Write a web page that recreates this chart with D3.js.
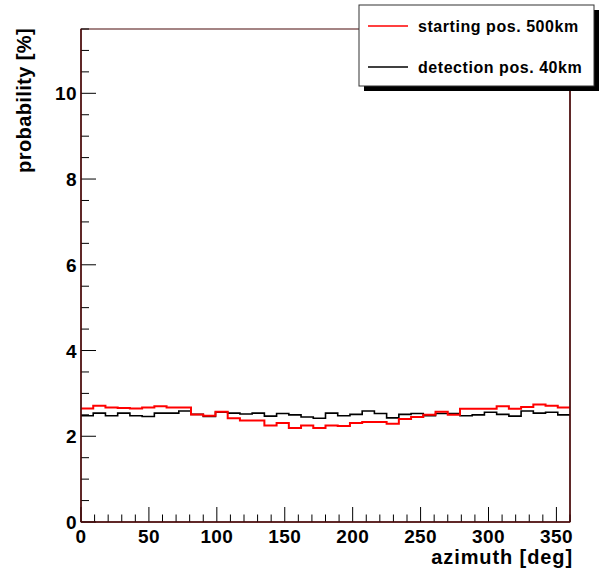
<!DOCTYPE html>
<html>
<head>
<meta charset="utf-8">
<script src="https://cdn.jsdelivr.net/npm/d3@7"></script>
<style>
  html, body { margin: 0; padding: 0; background: #fff; }
  svg { display: block; }
  text { font-family: "Liberation Sans", Arial, Helvetica, sans-serif; font-weight: bold; fill: #000; }
</style>
</head>
<body>
<svg id="chart" width="599" height="577"></svg>
<script>
// ---- data ----
const binWidth = 9; // degrees, 40 bins from 0 to 360
const startingPos500km = [
  2.65, 2.71, 2.67, 2.66, 2.65, 2.67, 2.70, 2.67,
  2.67, 2.51, 2.48, 2.57, 2.42, 2.37, 2.37, 2.25,
  2.31, 2.19, 2.25, 2.19, 2.25, 2.24, 2.31, 2.33,
  2.33, 2.29, 2.40, 2.45, 2.50, 2.57, 2.50, 2.64,
  2.64, 2.64, 2.70, 2.64, 2.68, 2.74, 2.71, 2.67
];
const detectionPos40km = [
  2.48, 2.54, 2.48, 2.54, 2.48, 2.46, 2.54, 2.54,
  2.59, 2.51, 2.46, 2.56, 2.54, 2.52, 2.54, 2.47,
  2.53, 2.50, 2.45, 2.42, 2.54, 2.48, 2.51, 2.59,
  2.53, 2.43, 2.51, 2.53, 2.48, 2.53, 2.53, 2.48,
  2.50, 2.56, 2.51, 2.47, 2.59, 2.54, 2.56, 2.50
];
const seriesNames = ["starting pos. 500km", "detection pos. 40km"];
const seriesColors = ["#ff0000", "#000000"];
const xTickValues = [0, 50, 100, 150, 200, 250, 300, 350];
const yTickValues = [0, 2, 4, 6, 8, 10];
const xTitle = "azimuth [deg]";
const yTitle = "probability [%]";

// ---- layout ----
const svg = d3.select("#chart");
const pL = 81, pR = 570, pT = 29, pB = 522;
const x = d3.scaleLinear().domain([0, 360]).range([pL, pR]);
const y = d3.scaleLinear().domain([0, 11.5]).range([pB, pT]);

const frameColor = "#4a0a0a";

// frame
svg.append("rect")
  .attr("x", pL).attr("y", pT)
  .attr("width", pR - pL).attr("height", pB - pT)
  .attr("fill", "#fff").attr("stroke", frameColor).attr("stroke-width", 1);

// ticks (ROOT style: inside the frame)
const xMinor = d3.range(0, 361, 10);
svg.append("g").selectAll("line").data(xMinor).join("line")
  .attr("x1", d => x(d)).attr("x2", d => x(d))
  .attr("y1", pB).attr("y2", d => pB - (d % 50 === 0 ? 15 : 7.5))
  .attr("stroke", "#000").attr("stroke-width", 1);

const yMinor = d3.range(0, 11.51, 0.5);
svg.append("g").selectAll("line").data(yMinor).join("line")
  .attr("x1", pL).attr("x2", d => pL + (Math.abs(d % 2) < 1e-9 ? 15 : 8))
  .attr("y1", d => y(d)).attr("y2", d => y(d))
  .attr("stroke", "#000").attr("stroke-width", 1);

// tick labels
svg.append("g").selectAll("text").data(xTickValues).join("text")
  .attr("x", d => x(d)).attr("y", 543)
  .attr("text-anchor", "middle")
  .attr("font-size", 19)
  .attr("letter-spacing", 0.4)
  .text(d => d);

svg.append("g").selectAll("text").data(yTickValues).join("text")
  .attr("x", 77).attr("y", d => y(d) + 7)
  .attr("text-anchor", "end")
  .attr("font-size", 19)
  .attr("letter-spacing", 0.4)
  .text(d => d);

// axis titles
svg.append("text")
  .attr("x", 573).attr("y", 564)
  .attr("text-anchor", "end")
  .attr("font-size", 20)
  .attr("letter-spacing", 0.9)
  .text(xTitle);

svg.append("text")
  .attr("transform", "translate(31,28) rotate(-90)")
  .attr("text-anchor", "end")
  .attr("font-size", 20)
  .attr("letter-spacing", 0.4)
  .text(yTitle);

// histograms
function stepPoints(vals) {
  const pts = vals.map((v, i) => [i * binWidth, v]);
  pts.push([vals.length * binWidth, vals[vals.length - 1]]);
  return pts;
}
const line = d3.line()
  .x(d => x(d[0])).y(d => y(d[1]))
  .curve(d3.curveStepAfter);

svg.append("path")
  .datum(stepPoints(detectionPos40km))
  .attr("d", line)
  .attr("fill", "none").attr("stroke", seriesColors[1]).attr("stroke-width", 1.6);

svg.append("path")
  .datum(stepPoints(startingPos500km))
  .attr("d", line)
  .attr("fill", "none").attr("stroke", seriesColors[0]).attr("stroke-width", 2);

// redraw frame edges on top
svg.append("line")
  .attr("x1", pR).attr("x2", pR).attr("y1", pT).attr("y2", pB)
  .attr("stroke", frameColor).attr("stroke-width", 1.5);
svg.append("line")
  .attr("x1", pL).attr("x2", pR).attr("y1", pB).attr("y2", pB)
  .attr("stroke", frameColor).attr("stroke-width", 1.5);
svg.append("line")
  .attr("x1", pL).attr("x2", pL).attr("y1", pT).attr("y2", pB)
  .attr("stroke", frameColor).attr("stroke-width", 1.5);

// legend with shadow
const lg = { x: 359, y: 5, w: 235, h: 81 };
svg.append("rect")
  .attr("x", lg.x + 5).attr("y", lg.y + 5)
  .attr("width", lg.w).attr("height", lg.h)
  .attr("fill", "#000");
svg.append("rect")
  .attr("x", lg.x).attr("y", lg.y)
  .attr("width", lg.w).attr("height", lg.h)
  .attr("fill", "#fff").attr("stroke", "#333").attr("stroke-width", 1);

const entryY = [26, 67];
seriesNames.forEach((name, i) => {
  svg.append("line")
    .attr("x1", 368).attr("x2", 408)
    .attr("y1", entryY[i]).attr("y2", entryY[i])
    .attr("stroke", seriesColors[i]).attr("stroke-width", 1.5);
  svg.append("text")
    .attr("x", 418).attr("y", entryY[i] + 6)
    .attr("font-size", 16)
    .attr("letter-spacing", 0.55)
    .text(name);
});
</script>
</body>
</html>
